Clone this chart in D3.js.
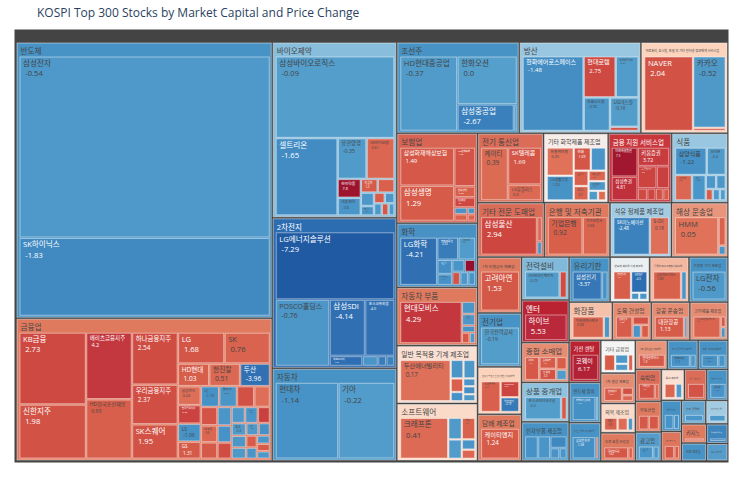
<!DOCTYPE html>
<html>
<head>
<meta charset="utf-8">
<script src="https://cdn.jsdelivr.net/npm/d3@7"></script>
<style>
body { margin: 0; background: #fff; }
text { font-family: "Open Sans", "Noto Sans CJK KR", sans-serif; }
</style>
</head>
<body>
<script>
var width = 743,
    height = 477;

// sectors, their total size and their average change (used for the header colour)
var sectors = ["반도체", "금융업", "바이오제약", "2차전지", "자동차", "조선주", "방산",
  "자료처리, 호스팅, 포털 및 기타 인터넷 정보매개 서비스업", "보험업", "화학", "자동차 부품",
  "일반 목적용 기계 제조업", "소프트웨어", "전기 통신업", "기타 화학제품 제조업", "금융 지원 서비스업",
  "식품", "기타 전문 도매업", "은행 및 저축기관", "석유 정제품 제조업", "해상 운송업",
  "1차 비철금속 제조업", "전기업", "전동기, 발전기 및 전기 변환 장치 제조업", "담배 제조업",
  "전력설비", "엔터", "종합 소매업", "상품 중개업", "전자부품 제조업", "유리기판",
  "반도체 제조용 기계 제조업", "컴퓨터 프로그래밍 서비스업", "가정용 기기 제조업",
  "화장품", "토목 건설업", "항공 운송업", "고무제품 제조업", "가전 렌탈",
  "반도체 장비", "통신 및 방송 장비 제조업", "기타 금융업",
  "1차 철강 제조업", "의복 제조업", "도로 화물 운송업", "기타 운송관련 서비스업",
  "측정 및 광학기기 제조업", "영상 · 오디오 제작업", "숙박업", "부동산업", "광고업",
  "음료 제조업", "플라스틱제품 제조업", "의료용 기기 제조업", "시멘트 제조업",
  "펄프 및 종이 제조업", "가스 공급업", "1차 금속 가공업", "카지노", "비료 제조업",
  "엔지니어링 서비스업", "교육 서비스업"];
var sectorCap = [472, 244, 146, 125, 77, 74.5, 74, 53, 48.5, 34.6, 31.4, 31.2, 31.0, 30.5, 30.0, 29.4,
  26.1, 24.2, 23.8, 22.3, 20.5, 16.4, 15.8, 13.9, 13.7,
  13.6, 13.5, 12.6, 12.5, 12.4, 12.3, 11.9, 11.8, 11.7,
  11.0, 9.9, 9.8, 9.7, 8.9, 8.5, 8.1, 7.6,
  7.0, 6.8, 6.5, 6.2, 6.0, 5.8, 5.5, 5.3, 5.0, 4.8, 4.6, 4.4, 4.2, 4.0, 3.8, 3.5, 3.2, 3.0, 2.8, 2.5];
var sectorChange = [-1.0, 1.5, -0.55, -5, -1.0, -1.0, -0.45, 0.5, 2.0, -1.2, 1.5, 0.3, 0.4, 1.8, 0.1, 3.0,
  -0.45, 1.8, 1.5, -0.4, 1.2, 1.5, -1.0, 0.5, 1.5,
  -0.6, 4.0, 1.3, -0.5, -1.0, -1.0, -0.05, 0.8, -1.0,
  0.7, 1.3, 1.3, 1.3, 4.0, -1.0, -1.0, 0.0,
  1.3, 0.4, 1.5, 1.2, -1.0, -1.0, 1.8, 1.5, -0.9, 0.3, 1.8, -1.0, -1.1, 1.6, -0.8, -0.4, 1.5, -1.0, -2.5, -0.9];

// [sector, stock, market cap (relative), change %]
var stocks = [
  ["반도체", "삼성전자", 44700, -0.54],
  ["반도체", "SK하이닉스", 19266, -1.83],

  ["금융업", "KB금융", 4416, 2.73],
  ["금융업", "신한지주", 3328, 1.98],
  ["금융업", "메리츠금융지주", 2816, 4.2],
  ["금융업", "HD한국조선해양", 2508, 0.93],
  ["금융업", "하나금융지주", 2200, 2.54],
  ["금융업", "우리금융지주", 1672, 2.37],
  ["금융업", "SK스퀘어", 1452, 1.95],
  ["금융업", "LG", 1330, 1.68],
  ["금융업", "SK", 1300, 0.76],
  ["금융업", "HD현대", 650, 1.03],
  ["금융업", "한진칼", 640, 0.51],
  ["금융업", "두산", 620, -3.96],
  ["금융업", "삼성카드", 400, 0.24],
  ["금융업", "한국금융지주", 390, 3.22],
  ["금융업", "LS", 380, -1.06],
  ["금융업", "GS", 360, 1.31],
  ["금융업", "CJ", 350, -1.19],
  ["금융업", "롯데지주", 340, -0.84],
  ["금융업", "BNK금융지주", 330, 2.1],
  ["금융업", "JB금융지주", 300, 0.22],
  ["금융업", "DGB금융지주", 280, 1.9],
  ["금융업", "코오롱", 260, 0.6],
  ["금융업", "한화손해보험", 250, 1.4],
  ["금융업", "LX홀딩스", 240, -0.8],
  ["금융업", "한국앤컴퍼니", 220, -1.1],
  ["금융업", "동원산업", 210, 2.4],
  ["금융업", "SK디스커버리", 200, -0.6],
  ["금융업", "HDC", 190, -0.9],
  ["금융업", "세아홀딩스", 180, 3.5],
  ["금융업", "효성", 170, -0.4],
  ["금융업", "농심홀딩스", 160, -0.7],
  ["금융업", "SK네트웍스", 150, -0.5],
  ["금융업", "대웅", 140, -0.5],
  ["금융업", "한솔홀딩스", 130, -1.3],
  ["금융업", "HL홀딩스", 120, 1.1],
  ["금융업", "아모레퍼시픽홀딩스", 110, -0.9],
  ["금융업", "한세예스24홀딩스", 100, -0.8],
  ["금융업", "풀무원", 90, 1.2],
  ["금융업", "대상홀딩스", 90, -0.6],

  ["바이오제약", "삼성바이오로직스", 9322, -0.09],
  ["바이오제약", "셀트리온", 4602, -1.65],
  ["바이오제약", "유한양행", 1131, -0.35],
  ["바이오제약", "SK바이오팜", 1092, 0.61],
  ["바이오제약", "한미약품", 418, 7.8],
  ["바이오제약", "대웅제약", 396, -0.8],
  ["바이오제약", "녹십자", 221, 1.2],
  ["바이오제약", "SK바이오사이언스", 221, 0.9],
  ["바이오제약", "한미사이언스", 170, -0.6],
  ["바이오제약", "종근당", 120, -0.9],
  ["바이오제약", "보령", 110, 1.1],
  ["바이오제약", "동아에스티", 100, -0.7],
  ["바이오제약", "녹십자홀딩스", 90, -0.5],
  ["바이오제약", "일동제약", 80, 1.5],
  ["바이오제약", "부광약품", 70, -0.4],

  ["2차전지", "LG에너지솔루션", 7788, -7.29],
  ["2차전지", "POSCO홀딩스", 3484, -0.76],
  ["2차전지", "삼성SDI", 1943, -4.14],
  ["2차전지", "포스코퓨처엠", 1610, -4.0],
  ["2차전지", "에코프로머티", 323, -4.28],
  ["2차전지", "코스모신소재", 152, -0.9],
  ["2차전지", "금양", 81, -3.0],
  ["2차전지", "엘앤에프", 81, -2.5],

  ["자동차", "현대차", 4575, -1.14],
  ["자동차", "기아", 4088, -0.22],

  ["조선주", "HD현대중공업", 4144, -0.37],
  ["조선주", "한화오션", 2773, 0.0],
  ["조선주", "삼성중공업", 1456, -2.67],
  ["조선주", "HD현대미포", 78, -1.5],

  ["방산", "한화에어로스페이스", 4440, -1.48],
  ["방산", "현대로템", 1280, 2.75],
  ["방산", "한국항공우주", 920, -0.24],
  ["방산", "한화시스템", 860, -0.76],
  ["방산", "LIG넥스원", 820, -0.16],
  ["방산", "풍산", 116, 2.1],

  ["자료처리, 호스팅, 포털 및 기타 인터넷 정보매개 서비스업", "NAVER", 3404, 2.04],
  ["자료처리, 호스팅, 포털 및 기타 인터넷 정보매개 서비스업", "카카오", 2176, -0.52],
  ["자료처리, 호스팅, 포털 및 기타 인터넷 정보매개 서비스업", "카카오페이", 96, 1.2],

  ["보험업", "삼성화재해상보험", 1950, 1.49],
  ["보험업", "삼성생명", 1800, 1.29],
  ["보험업", "DB손해보험", 770, 1.83],
  ["보험업", "한화생명", 220, 0.98],
  ["보험업", "현대해상", 200, 2.9],
  ["보험업", "코리안리", 84, -1.0],
  ["보험업", "동양생명", 84, 0.8],
  ["보험업", "미래에셋생명", 50, -0.9],
  ["보험업", "한화손보", 50, 0.7],

  ["화학", "LG화학", 1504, -4.21],
  ["화학", "한화솔루션", 400, -2.92],
  ["화학", "롯데케미칼", 323, -0.3],
  ["화학", "금호석유", 182, -1.5],
  ["화학", "SK케미칼", 140, -1.2],
  ["화학", "효성첨단소재", 130, -0.9],
  ["화학", "OCI홀딩스", 110, 8.5],
  ["화학", "대한유화", 90, 1.8],
  ["화학", "코오롱인더", 90, -0.7],
  ["화학", "효성티앤씨", 80, -1.0],

  ["자동차 부품", "현대모비스", 2460, 4.29],
  ["자동차 부품", "한온시스템", 160, -0.8],
  ["자동차 부품", "HL만도", 150, -0.6],
  ["자동차 부품", "현대위아", 90, -1.2],
  ["자동차 부품", "SNT모티브", 80, 1.6],
  ["자동차 부품", "에스엘", 60, -0.5],

  ["일반 목적용 기계 제조업", "두산에너빌리티", 1974, 0.17],
  ["일반 목적용 기계 제조업", "두산밥캣", 224, -0.9],
  ["일반 목적용 기계 제조업", "한화엔진", 208, -0.6],
  ["일반 목적용 기계 제조업", "씨에스윈드", 161, 0.9],
  ["일반 목적용 기계 제조업", "HD현대인프라코어", 110, -1.1],
  ["일반 목적용 기계 제조업", "HD현대건설기계", 90, -0.8],
  ["일반 목적용 기계 제조업", "두산퓨얼셀", 90, -1.4],
  ["일반 목적용 기계 제조업", "현대엘리베이터", 80, -0.5],

  ["소프트웨어", "크래프톤", 1794, 0.41],
  ["소프트웨어", "엔씨소프트", 266, -0.47],
  ["소프트웨어", "넷마블", 266, 0.8],
  ["소프트웨어", "더존비즈온", 238, -0.27],
  ["소프트웨어", "카카오게임즈", 126, -0.9],
  ["소프트웨어", "펄어비스", 112, 0.6],

  ["전기 통신업", "케이티", 1352, 0.39],
  ["전기 통신업", "SK텔레콤", 1155, 1.69],
  ["전기 통신업", "LG유플러스", 495, 0.5],

  ["기타 화학제품 제조업", "한솔케미칼", 500, 0.05],
  ["기타 화학제품 제조업", "LG생활건강", 437, -1.03],
  ["기타 화학제품 제조업", "한화", 260, 1.69],
  ["기타 화학제품 제조업", "아모레퍼시픽", 230, -0.8],
  ["기타 화학제품 제조업", "코스맥스", 150, 0.9],
  ["기타 화학제품 제조업", "KCC", 140, 0.7],
  ["기타 화학제품 제조업", "애경산업", 120, 0.6],
  ["기타 화학제품 제조업", "동진쎄미켐", 110, -0.7],
  ["기타 화학제품 제조업", "한국콜마", 60, -0.5],
  ["기타 화학제품 제조업", "솔브레인", 50, 0.4],

  ["금융 지원 서비스업", "미래에셋증권", 594, 7.5],
  ["금융 지원 서비스업", "삼성증권", 486, 4.81],
  ["금융 지원 서비스업", "키움증권", 462, 3.72],
  ["금융 지원 서비스업", "NH투자증권", 330, 3.2],
  ["금융 지원 서비스업", "한국투자증권", 221, 3.5],
  ["금융 지원 서비스업", "대신증권", 90, 2.6],
  ["금융 지원 서비스업", "유안타증권", 80, 3.0],
  ["금융 지원 서비스업", "한화투자증권", 70, 2.2],
  ["금융 지원 서비스업", "신영증권", 60, 1.2],

  ["식품", "삼양식품", 650, -1.22],
  ["식품", "오리온", 391, -0.4],
  ["식품", "CJ제일제당", 325, 0.55],
  ["식품", "농심", 260, -0.82],
  ["식품", "오뚜기", 110, -0.6],
  ["식품", "동원F&B", 100, -0.7],
  ["식품", "사조대림", 60, 1.0],
  ["식품", "대상", 60, -0.5],
  ["식품", "동서", 50, -0.4],

  ["기타 전문 도매업", "삼성물산", 1890, 2.94],
  ["기타 전문 도매업", "LX인터내셔널", 110, 0.6],
  ["기타 전문 도매업", "현대코퍼레이션", 60, -1.0],

  ["은행 및 저축기관", "기업은행", 1120, 0.92],
  ["은행 및 저축기관", "카카오뱅크", 805, 0.68],

  ["석유 정제품 제조업", "SK이노베이션", 1190, -2.48],
  ["석유 정제품 제조업", "S-Oil", 630, 0.19],

  ["해상 운송업", "HMM", 1400, 0.05],
  ["해상 운송업", "팬오션", 175, 0.8],
  ["해상 운송업", "대한해운", 56, -0.9],

  ["1차 비철금속 제조업", "고려아연", 1224, 1.53],
  ["전기업", "한국전력공사", 1200, -0.19],
  ["전동기, 발전기 및 전기 변환 장치 제조업", "효성중공업", 504, 0.9],
  ["전동기, 발전기 및 전기 변환 장치 제조업", "LS ELECTRIC", 252, 3.05],
  ["전동기, 발전기 및 전기 변환 장치 제조업", "일진전기", 230, -3.19],
  ["담배 제조업", "케이티앤지", 1200, 1.24],

  ["전력설비", "HD현대일렉트릭", 754, -0.23],
  ["전력설비", "제룡전기", 156, 2.5],
  ["엔터", "하이브", 900, 5.53],
  ["종합 소매업", "이마트", 300, 1.5],
  ["종합 소매업", "롯데쇼핑", 180, 1.2],
  ["종합 소매업", "신세계", 170, 2.0],
  ["종합 소매업", "현대백화점", 120, 1.0],
  ["종합 소매업", "BGF리테일", 100, -0.3],
  ["상품 중개업", "포스코인터내셔널", 700, -0.2],
  ["상품 중개업", "GS리테일", 110, 1.5],
  ["전자부품 제조업", "LG이노텍", 300, -1.2],
  ["전자부품 제조업", "LG디스플레이", 280, -0.9],
  ["전자부품 제조업", "이수페타시스", 200, -2.0],
  ["전자부품 제조업", "대덕전자", 100, -1.0],
  ["전자부품 제조업", "해성디에스", 80, -0.8],
  ["유리기판", "삼성전기", 650, -3.37],
  ["유리기판", "SKC", 130, -1.2],
  ["반도체 제조용 기계 제조업", "한미반도체", 364, 1.0],
  ["반도체 제조용 기계 제조업", "HPSP", 252, -4.5],
  ["반도체 제조용 기계 제조업", "주성엔지니어링", 42, -1.0],
  ["반도체 제조용 기계 제조업", "원익IPS", 42, -0.8],
  ["컴퓨터 프로그래밍 서비스업", "삼성에스디에스", 650, 0.88],
  ["컴퓨터 프로그래밍 서비스업", "포스코DX", 130, -0.9],
  ["가정용 기기 제조업", "LG전자", 800, -0.56],
  ["화장품", "아모레퍼시픽우", 540, 0.68],
  ["화장품", "코스메카코리아", 108, -0.9],
  ["토목 건설업", "현대건설", 210, 1.08],
  ["토목 건설업", "삼성E&A", 80, 2.0],
  ["토목 건설업", "GS건설", 64, -0.9],
  ["토목 건설업", "대우건설", 60, 1.1],
  ["항공 운송업", "대한항공", 506, 1.13],
  ["항공 운송업", "제주항공", 60, -0.6],
  ["고무제품 제조업", "한국타이어앤테크놀로지", 540, 0.7],
  ["고무제품 제조업", "금호타이어", 50, 1.5],
  ["고무제품 제조업", "넥센타이어", 50, -0.8],
  ["가전 렌탈", "코웨이", 540, 6.17],
  ["반도체 장비", "솔루스첨단소재", 480, -1.42],
  ["반도체 장비", "SK스퀘어우", 60, -0.8],
  ["통신 및 방송 장비 제조업", "삼성전자우", 450, -1.38],
  ["통신 및 방송 장비 제조업", "케이엠더블유", 60, 0.8],
  ["기타 금융업", "코리안리재보험", 180, 1.2],
  ["기타 금융업", "한국자산신탁", 120, -0.6],
  ["기타 금융업", "한국토지신탁", 90, -0.5],
  ["기타 금융업", "메리츠화재", 80, 0.9],

  ["1차 철강 제조업", "현대제철", 260, 1.25],
  ["1차 철강 제조업", "동국제강", 90, 2.1],
  ["1차 철강 제조업", "세아베스틸지주", 70, 0.6],
  ["의복 제조업", "F&F", 200, 0.9],
  ["의복 제조업", "영원무역", 150, 0.3],
  ["의복 제조업", "한섬", 80, -0.6],
  ["도로 화물 운송업", "CJ대한통운", 300, 1.62],
  ["도로 화물 운송업", "한진", 60, 0.9],
  ["기타 운송관련 서비스업", "현대글로비스", 300, 1.3],
  ["측정 및 광학기기 제조업", "한화비전", 200, -1.1],
  ["측정 및 광학기기 제조업", "비에이치", 60, -0.7],
  ["영상 · 오디오 제작업", "CJ ENM", 200, -1.05],
  ["영상 · 오디오 제작업", "스튜디오드래곤", 90, -0.9],
  ["숙박업", "호텔신라", 200, 1.9],
  ["숙박업", "파라다이스", 50, 1.2],
  ["부동산업", "롯데리츠", 100, 1.4],
  ["부동산업", "SK리츠", 100, 1.6],
  ["광고업", "제일기획", 200, -0.9],
  ["광고업", "이노션", 80, -0.8],
  ["음료 제조업", "하이트진로", 100, 0.6],
  ["음료 제조업", "롯데칠성", 60, -0.4],
  ["플라스틱제품 제조업", "롯데정밀화학", 100, 1.9],
  ["의료용 기기 제조업", "덴티움", 100, -1.0],
  ["시멘트 제조업", "쌍용C&E", 100, -1.1],
  ["시멘트 제조업", "한일시멘트", 60, -1.2],
  ["펄프 및 종이 제조업", "한솔제지", 80, 1.7],
  ["펄프 및 종이 제조업", "무림P&P", 40, 1.2],
  ["가스 공급업", "한국가스공사", 100, -0.8],
  ["1차 금속 가공업", "현대비앤지스틸", 100, -0.4],
  ["카지노", "강원랜드", 100, 1.5],
  ["비료 제조업", "남해화학", 100, -1.0],
  ["엔지니어링 서비스업", "한전기술", 100, -2.6],
  ["교육 서비스업", "웅진씽크빅", 100, -0.9]
];

var title = "KOSPI Top 300 Stocks by Market Capital and Price Change";

// colour of a stock by its price change
var negColor = d3.scaleLinear().domain([-8, -4, -1.3, 0]).range(["#1b55a0", "#3070b3", "#4590c5", "#559fcc"]).clamp(true);
var posColor = d3.scaleLinear().domain([0, 1, 3, 5.5, 9]).range(["#e0735b", "#d75e4a", "#cd4640", "#b9283b", "#8f0a28"]).clamp(true);
function stockColor(v) { return v > 0 ? posColor(v) : negColor(v); }
// colour of a sector by its average change
var sectorColor = d3.scaleLinear()
  .domain([-5, -1, -0.5, 0, 0.5, 1.5, 3, 4.5])
  .range(["#2c6cb0", "#4893c5", "#8fc2df", "#f4f4f4", "#fcd3bd", "#e07a5f", "#c9373c", "#b2182b"]).clamp(true);

function textColor(c) {
  var rgb = d3.rgb(c);
  var b = (rgb.r * 299 + rgb.g * 587 + rgb.b * 114) / 1000;
  return b < 128 ? "#fff" : "#444";
}
function fmt(v) {
  var s = String(Math.round(v * 100) / 100);
  return s.indexOf(".") < 0 ? s + ".0" : s;
}

var data = {
  name: "",
  children: sectors.map(function(s, i) {
    var rows = stocks.filter(function(d) { return d[0] === s; });
    var tot = d3.sum(rows, function(d) { return d[2]; });
    return {
      name: s,
      change: sectorChange[i],
      children: rows.map(function(d) {
        return { name: d[1], value: d[2] * sectorCap[i] / tot, change: d[3] };
      })
    };
  })
};

var svg = d3.select("body").append("svg")
    .attr("width", width)
    .attr("height", height);

svg.append("text")
  .attr("x", 37)
  .attr("y", 17)
  .attr("fill", "#2a3f5f")
  .style("font-size", "12px")
  .text(title);

var root = d3.hierarchy(data)
  .sum(function(d) { return d.value || 0; })
  .sort(function(a, b) { return b.value - a.value; });

d3.treemap()
  .tile(d3.treemapSquarify.ratio(1))
  .size([713, 432])
  .paddingTop(function(d) { return d.depth === 0 ? 13 : 14; })
  .paddingLeft(function(d) { return d.depth === 0 ? 2 : 3; })
  .paddingRight(function(d) { return d.depth === 0 ? 1 : 2; })
  .paddingBottom(2)
  .paddingInner(function(d) { return d.depth === 0 ? 2 : 1.5; })
  (root);

var g = svg.append("g").attr("transform", "translate(15,30)");

var nodes = g.selectAll("g.node")
  .data(root.descendants())
  .enter().append("g")
    .attr("class", "node")
    .attr("transform", function(d) { return "translate(" + d.x0 + "," + d.y0 + ")"; });

nodes.append("rect")
  .attr("width", function(d) { return Math.max(0, d.x1 - d.x0); })
  .attr("height", function(d) { return Math.max(0, d.y1 - d.y0); })
  .attr("fill", function(d) {
    if (d.depth === 0) return "#444";
    return d.depth === 1 ? sectorColor(d.data.change) : stockColor(d.data.change);
  })
  .attr("stroke", function(d) { return d.depth === 0 ? "#444" : "rgba(255,255,255,0.45)"; })
  .attr("stroke-width", 1);

var maxFont = 7.6;

// sector headers
nodes.filter(function(d) { return d.depth === 1; }).each(function(d) {
  var w = d.x1 - d.x0;
  var t = d3.select(this).append("text")
    .attr("x", 3.5)
    .attr("fill", textColor(sectorColor(d.data.change)))
    .style("font-size", "10px")
    .text(d.data.name);
  var len = t.node().getComputedTextLength();
  var fs = Math.min(maxFont, 9.6 * (w - 8) / len);
  t.style("font-size", fs + "px").attr("y", (14 + fs * 0.75) / 2 + 1);
});

// stock labels
nodes.filter(function(d) { return d.depth === 2; }).each(function(d) {
  var w = d.x1 - d.x0, h = d.y1 - d.y0;
  var fill = textColor(stockColor(d.data.change));
  var sel = d3.select(this);
  var t1 = sel.append("text").attr("fill", fill).style("font-size", "10px").text(d.data.name);
  var t2 = sel.append("text").attr("fill", fill).style("font-size", "10px").text(fmt(d.data.change));
  var len = Math.max(t1.node().getComputedTextLength(), t2.node().getComputedTextLength() + 3);
  var fs = Math.min(maxFont, 9.5 * (w - 7) / len, (h - 3) / 2.7);
  if (fs < 1.5) { t1.remove(); t2.remove(); return; }
  t1.style("font-size", fs + "px").attr("x", 3).attr("y", 1 + fs * 1.05);
  t2.style("font-size", fs + "px").attr("x", 3 + fs * 0.3).attr("y", 1 + fs * 2.4);
});
</script>
</body>
</html>
